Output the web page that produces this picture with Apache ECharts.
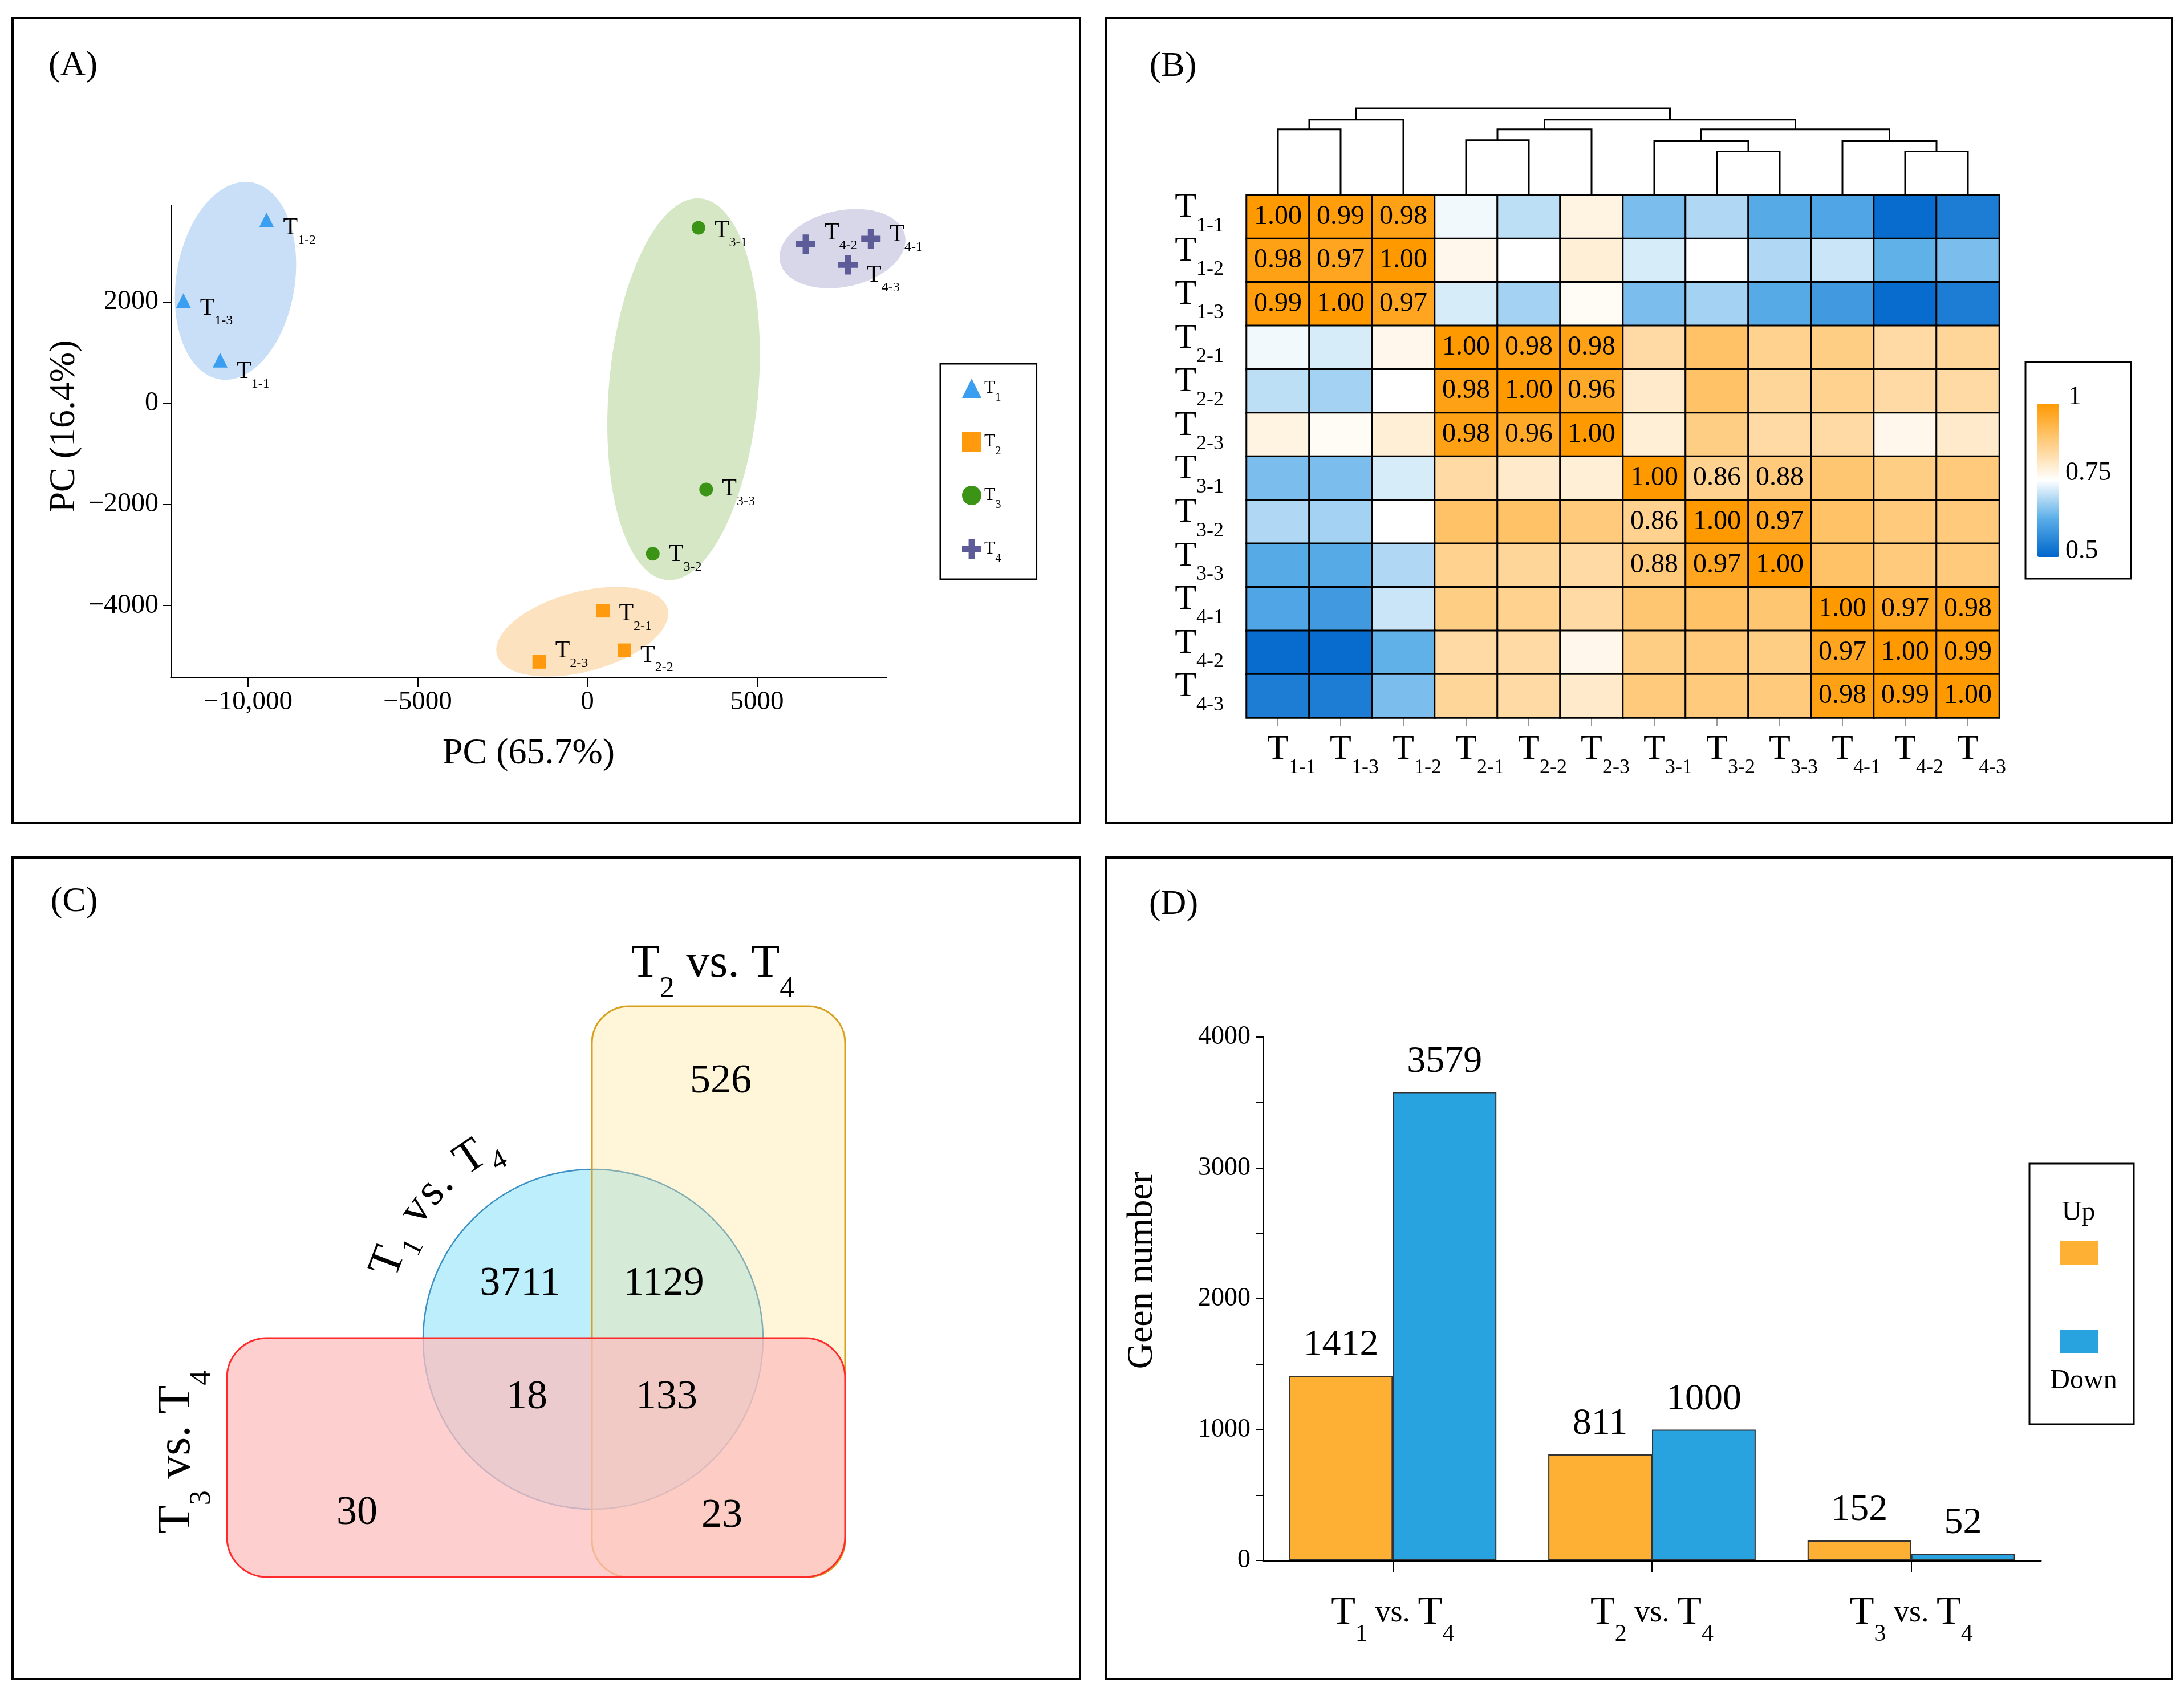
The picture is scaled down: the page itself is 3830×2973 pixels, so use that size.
<!DOCTYPE html>
<html>
<head>
<meta charset="utf-8">
<title>Figure</title>
<script src="https://cdn.jsdelivr.net/npm/echarts@6.0.0/dist/echarts.min.js"></script>
<style>
html,body{margin:0;padding:0;background:#fff;}
#chart{width:3830px;height:2973px;}
</style>
</head>
<body>
<div id="chart"></div>
<script>
// ================= DATA =================
// Panel A: PCA scores [sample, PC1, PC2]
const pcaGroupNames = ['T1', 'T2', 'T3', 'T4'];
const pcaT1 = [['1-1', -10823, 847], ['1-2', -9455, 3620], ['1-3', -11904, 2025]];
const pcaT2 = [['2-1', 461, -4103], ['2-2', 1093, -4885], ['2-3', -1417, -5114]];
const pcaT3 = [['3-1', 3276, 3464], ['3-2', 1929, -2978], ['3-3', 3501, -1706]];
const pcaT4 = [['4-1', 8357, 3245], ['4-2', 6437, 3140], ['4-3', 7681, 2734]];
// group ellipses: centre x, centre y, half-axis (x units), half-axis (y units), tilt deg
const pcaEllipses = [[-10370, 2416, 1748, 1972, 9], [-151, -4518, 2605, 789, -15], [2837, 274, 2202, 3786, 5], [7520, 3053, 1882, 755, -12]];
const pcaXRange = [-12269, 8807];
const pcaYRange = [-5420, 3899];
const pcaXTicks = [-10000, -5000, 0, 5000];
const pcaXTickLabels = ['\u221210,000', '\u22125000', '0', '5000'];
const pcaYTicks = [-4000, -2000, 0, 2000];
const pcaYTickLabels = ['\u22124000', '\u22122000', '0', '2000'];

// Panel B: correlation heatmap
const heatRows = ['T1-1', 'T1-2', 'T1-3', 'T2-1', 'T2-2', 'T2-3', 'T3-1', 'T3-2', 'T3-3', 'T4-1', 'T4-2', 'T4-3'];
const heatCols = ['T1-1', 'T1-3', 'T1-2', 'T2-1', 'T2-2', 'T2-3', 'T3-1', 'T3-2', 'T3-3', 'T4-1', 'T4-2', 'T4-3'];
const heatValues = [
  [1.00, 0.99, 0.98, 0.74, 0.70, 0.78, 0.65, 0.69, 0.62, 0.61, 0.51, 0.54],
  [0.98, 0.97, 1.00, 0.77, 0.75, 0.79, 0.72, 0.75, 0.69, 0.71, 0.63, 0.65],
  [0.99, 1.00, 0.97, 0.72, 0.68, 0.76, 0.65, 0.68, 0.62, 0.59, 0.51, 0.54],
  [0.74, 0.72, 0.77, 1.00, 0.98, 0.98, 0.84, 0.90, 0.86, 0.87, 0.84, 0.85],
  [0.70, 0.68, 0.75, 0.98, 1.00, 0.96, 0.80, 0.90, 0.85, 0.86, 0.84, 0.84],
  [0.78, 0.76, 0.79, 0.98, 0.96, 1.00, 0.79, 0.87, 0.84, 0.84, 0.77, 0.80],
  [0.65, 0.65, 0.72, 0.84, 0.80, 0.79, 1.00, 0.86, 0.88, 0.89, 0.87, 0.88],
  [0.69, 0.68, 0.75, 0.90, 0.90, 0.88, 0.86, 1.00, 0.97, 0.90, 0.88, 0.88],
  [0.62, 0.62, 0.69, 0.86, 0.85, 0.84, 0.88, 0.97, 1.00, 0.90, 0.88, 0.88],
  [0.61, 0.59, 0.71, 0.87, 0.86, 0.84, 0.89, 0.90, 0.89, 1.00, 0.97, 0.98],
  [0.51, 0.51, 0.63, 0.84, 0.84, 0.77, 0.87, 0.88, 0.87, 0.97, 1.00, 0.99],
  [0.54, 0.54, 0.65, 0.85, 0.84, 0.80, 0.88, 0.88, 0.88, 0.98, 0.99, 1.00]
];
const heatScaleLabels = ['1', '0.75', '0.5'];
// dendrogram merges: [left, right, height, new node]
const dendroMerges = [
  ['T1-1', 'T1-3', 116, 'a'], ['a', 'T1-2', 133, 'b'],
  ['T2-1', 'T2-2', 97, 'c'], ['c', 'T2-3', 116, 'd'],
  ['T3-2', 'T3-3', 77, 'e'], ['T3-1', 'e', 95, 'f'],
  ['T4-2', 'T4-3', 77, 'g'], ['T4-1', 'g', 95, 'h'],
  ['f', 'h', 116, 'i'], ['d', 'i', 133, 'j'], ['b', 'j', 153, 'root']
];

// Panel C: Venn
const vennSetLabels = ['T1 vs. T4', 'T2 vs. T4', 'T3 vs. T4'];
const vennRegions = ['T2 only', 'T1 only', 'T1&T2', 'T1&T3', 'T1&T2&T3', 'T3 only', 'T2&T3'];
const vennCounts = [526, 3711, 1129, 18, 133, 30, 23];

// Panel D: DEG bars
const barCategories = ['T1 vs. T4', 'T2 vs. T4', 'T3 vs. T4'];
const upValues = [1412, 811, 152];
const downValues = [3579, 1000, 52];
const barSeriesNames = ['Up', 'Down'];

// ================= STYLE / LAYOUT =================
const FONT = "'Liberation Serif', 'Times New Roman', serif";
const pcaSymbols = ['triangle', 'rect', 'circle', 'path://M34,0H66V34H100V66H66V100H34V66H0V34H34Z'];
const pcaSymbolSizes = [26, 24, 24, 34];
const pcaColors = ['#3a9ff0', '#ff9a0f', '#3b9416', '#5d5b98'];
const ellipseColors = ['#c8dff7', '#fde2bf', '#d5e7c5', '#d8d6e9'];
// vertical label offsets (px) per sample label
const pcaLabelDy = { '1-1': 20, '1-2': 14, '1-3': 14, '2-1': 6, '2-2': 9, '2-3': -19, '3-1': 5, '3-2': 2, '3-3': 0, '4-1': -7, '4-2': -19, '4-3': 19 };
const upColor = '#fdb034', downColor = '#29a3e0';
const heatPalette = ['#0066cc', '#5aaee8', '#ffffff', '#ffcc80', '#ff9900'];

function richStyles(F, f, fv) {
  fv = fv || F;
  const L = Math.round(0.675 * F + 1.625 * f);
  return {
    t: { fontSize: F, fontFamily: FONT, color: '#000', lineHeight: L },
    s: { fontSize: f, fontFamily: FONT, color: '#000', lineHeight: f, verticalAlign: 'bottom' },
    v: { fontSize: fv, fontFamily: FONT, color: '#000' }
  };
}
function richify(str) {
  return str.split(/(T\d(?:-\d)?)/).filter(p => p !== '').map(p => {
    const m = p.match(/^T(\d(?:-\d)?)$/);
    return m ? '{t|T}{s|' + m[1] + '}' : '{v|' + p + '}';
  }).join('');
}

// ---- derived series data ----
const pcaSets = [pcaT1, pcaT2, pcaT3, pcaT4];
const heatData = [];
heatRows.forEach((r, ri) => heatCols.forEach((c, ci) => heatData.push([ci, ri, heatValues[ri][ci]])));

const dendroPos = {};
heatCols.forEach((c, i) => { dendroPos[c] = { x: i, h: 0 }; });
const dendroData = dendroMerges.map(m => {
  const l = dendroPos[m[0]], r = dendroPos[m[1]];
  dendroPos[m[3]] = { x: (l.x + r.x) / 2, h: m[2] };
  return [l.x, r.x, l.h, r.h, m[2]];
});

// ================= GRAPHIC (borders, letters, Venn, legends) =================
const graphicEls = [];
[[22, 31, 1872, 1413], [1940, 31, 1869, 1413], [22, 1504, 1872, 1441], [1940, 1504, 1869, 1441]].forEach(b => {
  graphicEls.push({ type: 'rect', shape: { x: b[0], y: b[1], width: b[2], height: b[3] }, style: { fill: 'none', stroke: '#000', lineWidth: 4 }, silent: true });
});
[['(A)', 128, 116], ['(B)', 2057, 117], ['(C)', 130, 1582], ['(D)', 2058, 1587]].forEach(t => {
  graphicEls.push({ type: 'text', x: t[1], y: t[2], style: { text: t[0], fontSize: 62, fontFamily: FONT, fill: '#000', align: 'center', verticalAlign: 'middle' } });
});

// colour bar frame + labels (panel B)
graphicEls.push({ type: 'rect', shape: { x: 3552, y: 635, width: 185, height: 380 }, style: { fill: 'none', stroke: '#000', lineWidth: 3 } });
[[heatScaleLabels[0], 3627, 697], [heatScaleLabels[1], 3622, 830], [heatScaleLabels[2], 3622, 967]].forEach(t => {
  graphicEls.push({ type: 'text', x: t[1], y: t[2], style: { text: t[0], fontSize: 46, fontFamily: FONT, fill: '#000', align: 'left', verticalAlign: 'middle' } });
});

// Venn shapes
const vennCircle = { cx: 1040, cy: 2349, r: 298 };
const vennYellow = { x: 1038, y: 1765, w: 444, h: 1001, r: 65 };
const vennRed = { x: 398, y: 2347, w: 1084, h: 419, r: 70 };
graphicEls.push({ type: 'circle', shape: { cx: vennCircle.cx, cy: vennCircle.cy, r: vennCircle.r }, style: { fill: '#bdeefc', stroke: '#3b8fc4', lineWidth: 2.5 } });
graphicEls.push({ type: 'rect', shape: { x: vennYellow.x, y: vennYellow.y, width: vennYellow.w, height: vennYellow.h, r: vennYellow.r }, style: { fill: 'rgba(255,228,150,0.36)', stroke: '#d7a11f', lineWidth: 3 } });
graphicEls.push({ type: 'rect', shape: { x: vennRed.x, y: vennRed.y, width: vennRed.w, height: vennRed.h, r: vennRed.r }, style: { fill: 'rgba(252,190,190,0.74)', stroke: '#ff2a2a', lineWidth: 3 } });
const vennCountPos = [[1264, 1897], [912, 2252], [1164, 2252], [924, 2451], [1169, 2451], [626, 2654], [1266, 2659]];
vennCounts.forEach((c, i) => {
  graphicEls.push({ type: 'text', x: vennCountPos[i][0], y: vennCountPos[i][1], style: { text: String(c), fontSize: 72, fontFamily: FONT, fill: '#000', align: 'center', verticalAlign: 'middle' } });
});
const vennRich = richStyles(82, 52);
graphicEls.push({ type: 'text', x: 1250, y: 1691, style: { text: richify(vennSetLabels[1]), rich: vennRich, align: 'center', verticalAlign: 'middle' } });
graphicEls.push({ type: 'text', x: 310, y: 2547, rotation: Math.PI / 2, style: { text: richify(vennSetLabels[2]), rich: vennRich, align: 'center', verticalAlign: 'middle' } });
// curved label along the circle
(function () {
  const label = vennSetLabels[0];
  const F = 80, f = 50, rBase = 356, spacing = 2;
  const ctx = document.createElement('canvas').getContext('2d');
  let ang = 196.8 * Math.PI / 180;
  for (let i = 0; i < label.length; i++) {
    const ch = label[i];
    const isSub = /\d/.test(ch) && label[i - 1] === 'T';
    const size = isSub ? f : F;
    ctx.font = size + "px 'Liberation Serif'";
    const w = ctx.measureText(ch).width;
    const mid = ang + (w / 2) / rBase;
    const rm = isSub ? rBase - 0.25 * F + 0.3375 * f : rBase + 0.3375 * F;
    if (ch !== ' ') {
      graphicEls.push({
        type: 'text', x: vennCircle.cx + rm * Math.cos(mid), y: vennCircle.cy + rm * Math.sin(mid),
        rotation: Math.atan2(-Math.cos(mid), -Math.sin(mid)),
        style: { text: ch, fontSize: size, fontFamily: FONT, fill: '#000', align: 'center', verticalAlign: 'middle' }
      });
    }
    ang += (w + spacing) / rBase;
  }
})();

// Panel D legend
graphicEls.push({ type: 'rect', shape: { x: 3559, y: 2041, width: 183, height: 457 }, style: { fill: 'none', stroke: '#000', lineWidth: 3 } });
graphicEls.push({ type: 'text', x: 3645, y: 2127, style: { text: barSeriesNames[0], fontSize: 48, fontFamily: FONT, fill: '#000', align: 'center', verticalAlign: 'middle' } });
graphicEls.push({ type: 'rect', shape: { x: 3613, y: 2177, width: 67, height: 42 }, style: { fill: upColor } });
graphicEls.push({ type: 'rect', shape: { x: 3613, y: 2332, width: 67, height: 42 }, style: { fill: downColor } });
graphicEls.push({ type: 'text', x: 3654, y: 2422, style: { text: barSeriesNames[1], fontSize: 48, fontFamily: FONT, fill: '#000', align: 'center', verticalAlign: 'middle' } });

// ================= OPTION =================
const axisBlack = { color: '#000', width: 3 };
const option = {
  animation: false,
  backgroundColor: '#fff',
  textStyle: { fontFamily: FONT },
  grid: [
    { left: 300, top: 361, width: 1254, height: 827 },
    { left: 2186, top: 342, width: 1320, height: 917 },
    { left: 2186, top: 190, width: 1320, height: 152 },
    { left: 2215, top: 1819, width: 1364, height: 918 }
  ],
  xAxis: [
    {
      type: 'value', gridIndex: 0, min: pcaXRange[0], max: pcaXRange[1],
      axisLine: { show: true, onZero: false, lineStyle: axisBlack },
      axisTick: { show: true, customValues: pcaXTicks, length: 17, lineStyle: { color: '#000', width: 2 } },
      axisLabel: { customValues: pcaXTicks, formatter: v => { const i = pcaXTicks.indexOf(v); return i >= 0 ? pcaXTickLabels[i] : ''; }, fontSize: 47, fontFamily: FONT, color: '#000', margin: 20 },
      splitLine: { show: false },
      name: 'PC (65.7%)', nameLocation: 'middle', nameGap: 102, nameTextStyle: { fontSize: 64, fontFamily: FONT, color: '#000' }
    },
    {
      type: 'category', gridIndex: 1, data: heatCols,
      axisLine: { show: false },
      axisTick: { show: true, alignWithLabel: true, length: 15, lineStyle: { color: '#999', width: 2 } },
      axisLabel: { interval: 0, formatter: v => richify(v), rich: richStyles(62, 36), margin: 6, padding: [0, 0, 0, 48] },
      splitLine: { show: false }
    },
    { type: 'value', gridIndex: 2, min: -0.5, max: 11.5, show: false },
    {
      type: 'category', gridIndex: 3, data: barCategories,
      axisLine: { show: true, lineStyle: axisBlack },
      axisTick: { show: true, alignWithLabel: true, length: 20, lineStyle: { color: '#000', width: 2 } },
      axisLabel: { interval: 0, formatter: v => richify(v), rich: richStyles(70, 42, 54), margin: 35 }
    }
  ],
  yAxis: [
    {
      type: 'value', gridIndex: 0, min: pcaYRange[0], max: pcaYRange[1],
      axisLine: { show: true, onZero: false, lineStyle: axisBlack },
      axisTick: { show: true, customValues: pcaYTicks, length: 15, lineStyle: { color: '#000', width: 2 } },
      axisLabel: { customValues: pcaYTicks, formatter: v => { const i = pcaYTicks.indexOf(v); return i >= 0 ? pcaYTickLabels[i] : ''; }, fontSize: 48, fontFamily: FONT, color: '#000', margin: 22 },
      splitLine: { show: false },
      name: 'PC (16.4%)', nameLocation: 'middle', nameGap: 155, nameTextStyle: { fontSize: 64, fontFamily: FONT, color: '#000', padding: [0, 0, 0, 54] }
    },
    {
      type: 'category', gridIndex: 1, data: heatRows, inverse: true,
      axisLine: { show: false }, axisTick: { show: false },
      axisLabel: { interval: 0, formatter: v => richify(v), rich: richStyles(62, 36), margin: 40, padding: [0, 0, 32, 0] }
    },
    { type: 'value', gridIndex: 2, min: 0, max: 153, show: false },
    {
      type: 'value', gridIndex: 3, min: 0, max: 4000, interval: 1000,
      axisLine: { show: true, lineStyle: axisBlack },
      axisTick: { show: true, length: 12, lineStyle: { color: '#000', width: 2 } },
      minorTick: { show: true, splitNumber: 2, length: 12, lineStyle: { color: '#000', width: 2 } },
      axisLabel: { formatter: v => String(v), fontSize: 46, fontFamily: FONT, color: '#000', margin: 22 },
      splitLine: { show: false },
      name: 'Geen number', nameLocation: 'middle', nameGap: 180, nameTextStyle: { fontSize: 64, fontFamily: FONT, color: '#000', padding: [0, 0, 0, 100] }
    }
  ],
  legend: [{
    data: pcaGroupNames, orient: 'vertical', left: 1649, top: 638,
    padding: [26, 62, 26, 38], itemGap: 50, itemWidth: 34, itemHeight: 34,
    borderColor: '#000', borderWidth: 3, selectedMode: false,
    formatter: n => richify(n), textStyle: { rich: richStyles(32, 20) }
  }],
  visualMap: {
    type: 'continuous', seriesIndex: 5, dimension: 2, min: 0.5, max: 1,
    inRange: { color: heatPalette },
    show: true, left: 3573, top: 708, itemWidth: 38, itemHeight: 269,
    text: null, calculable: false, padding: 0, hoverLink: false
  },
  graphic: { elements: graphicEls },
  series: [
    {
      type: 'custom', xAxisIndex: 0, yAxisIndex: 0, silent: true, z: 1,
      data: pcaEllipses,
      encode: { x: 0, y: 1 },
      renderItem: function (params, api) {
        const c = api.coord([api.value(0), api.value(1)]);
        const s = api.size([api.value(2), api.value(3)]);
        const a = api.value(4) * Math.PI / 180;
        const pts = [];
        for (let i = 0; i < 120; i++) {
          const t = i / 120 * 2 * Math.PI;
          const lx = s[0] * Math.cos(t), ly = s[1] * Math.sin(t);
          pts.push([c[0] + lx * Math.cos(a) - ly * Math.sin(a), c[1] + lx * Math.sin(a) + ly * Math.cos(a)]);
        }
        return { type: 'polygon', shape: { points: pts }, style: { fill: ellipseColors[params.dataIndex] } };
      }
    }
  ].concat(pcaSets.map((set, gi) => ({
    type: 'scatter', name: pcaGroupNames[gi], xAxisIndex: 0, yAxisIndex: 0, z: 3,
    symbol: pcaSymbols[gi], symbolSize: pcaSymbolSizes[gi],
    itemStyle: { color: pcaColors[gi], opacity: 1 },
    data: set.map(d => ({ name: 'T' + d[0], value: [d[1], d[2]], label: { offset: [0, pcaLabelDy[d[0]]] } })),
    label: { show: true, position: 'right', distance: 16, formatter: p => richify(p.name), rich: richStyles(42, 24) },
    emphasis: { disabled: true }
  }))).concat([
    {
      type: 'heatmap', xAxisIndex: 1, yAxisIndex: 1, data: heatData,
      itemStyle: { borderColor: '#000', borderWidth: 3 },
      label: {
        show: true, fontSize: 48, fontFamily: FONT, color: '#000',
        formatter: p => heatRows[p.value[1]].slice(0, 2) === heatCols[p.value[0]].slice(0, 2) ? p.value[2].toFixed(2) : ''
      },
      emphasis: { disabled: true }
    },
    {
      type: 'custom', xAxisIndex: 2, yAxisIndex: 2, silent: true, data: dendroData,
      encode: { x: [0, 1], y: [2, 3, 4] },
      renderItem: function (params, api) {
        const xl = api.value(0), xr = api.value(1), hl = api.value(2), hr = api.value(3), h = api.value(4);
        return {
          type: 'polyline',
          shape: { points: [api.coord([xl, hl]), api.coord([xl, h]), api.coord([xr, h]), api.coord([xr, hr])] },
          style: { stroke: '#000', lineWidth: 3, fill: null }
        };
      }
    },
    {
      type: 'bar', name: barSeriesNames[0], xAxisIndex: 3, yAxisIndex: 3, data: upValues,
      barGap: '0%', barCategoryGap: '20%',
      itemStyle: { color: upColor, borderColor: '#333', borderWidth: 2 },
      label: { show: true, position: 'top', distance: 20, fontSize: 66, fontFamily: FONT, color: '#000' },
      emphasis: { disabled: true }
    },
    {
      type: 'bar', name: barSeriesNames[1], xAxisIndex: 3, yAxisIndex: 3, data: downValues,
      barGap: '0%', barCategoryGap: '20%',
      itemStyle: { color: downColor, borderColor: '#333', borderWidth: 2 },
      label: { show: true, position: 'top', distance: 20, fontSize: 66, fontFamily: FONT, color: '#000' },
      emphasis: { disabled: true }
    }
  ])
};

const chart = echarts.init(document.getElementById('chart'), null, { renderer: 'canvas', width: 3830, height: 2973 });
chart.setOption(option);
</script>
</body>
</html>
